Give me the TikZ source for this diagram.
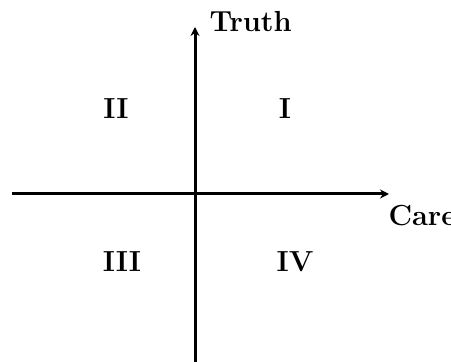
\documentclass[tikz,border=0pt]{standalone}
\usepackage{tikz}
\usetikzlibrary{arrows.meta}

\tikzset{numeral/.style={font=\fontsize{29}{33}\selectfont\bfseries}}

\begin{document}
\begin{tikzpicture}[x=1pt, y=1pt]
	\useasboundingbox (0,0) rectangle (451,362);
	\coordinate (west) at (12,168);
	\coordinate (east) at (389,168);
	\coordinate (south) at (195,0);
	\coordinate (north) at (195,335);
	\draw[line width=3pt, -{Stealth[length=9pt, width=9pt]}] (west) -- (east);
	\draw[line width=3pt, -{Stealth[length=9pt, width=9pt]}] (south) -- (north);
	\node[numeral, anchor=west] (truth) at (206,340) {Truth};
	\node[numeral, anchor=west] (care) at (385,146) {Care};
	\node[numeral] (q1) at (285,253) {I};
	\node[numeral] (q2) at (116,253) {II};
	\node[numeral] (q3) at (122,100) {III};
	\node[numeral] (q4) at (295,100) {IV};
\end{tikzpicture}
\end{document}
